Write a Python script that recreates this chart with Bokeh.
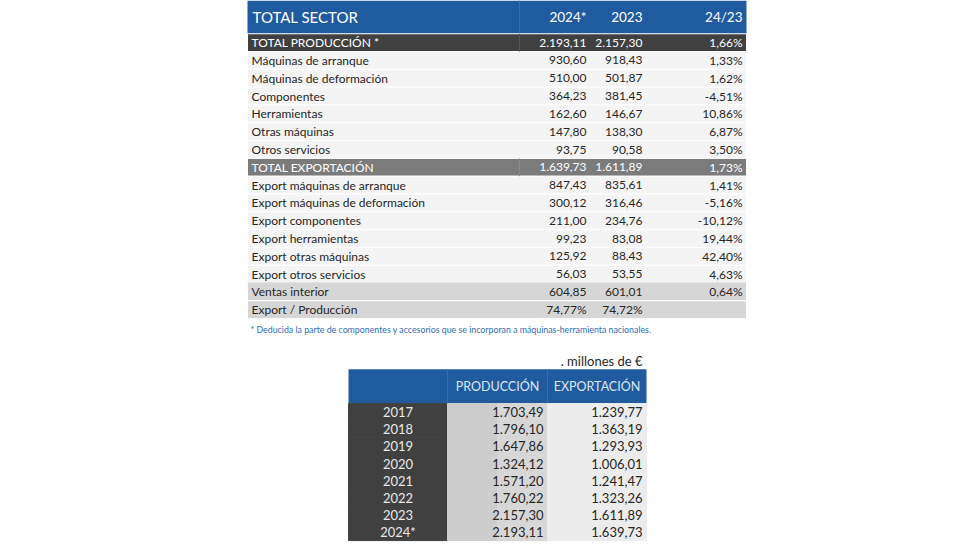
from bokeh.plotting import figure
from bokeh.models import Range1d, ColumnDataSource
from bokeh.core.properties import value
from bokeh.embed import file_html
from bokeh.resources import INLINE

# ---------------- data ----------------
header1 = ["TOTAL SECTOR", "2024*", "2023", "24/23"]
labels1 = ["TOTAL PRODUCCIÓN *", "Máquinas de arranque", "Máquinas de deformación",
           "Componentes", "Herramientas", "Otras máquinas", "Otros servicios",
           "TOTAL EXPORTACIÓN", "Export máquinas de arranque", "Export máquinas de deformación",
           "Export componentes", "Export herramientas", "Export otras máquinas",
           "Export otros servicios", "Ventas interior", "Export / Producción"]
val2024 = [2193.11, 930.60, 510.00, 364.23, 162.60, 147.80, 93.75,
           1639.73, 847.43, 300.12, 211.00, 99.23, 125.92, 56.03, 604.85, 74.77]
val2023 = [2157.30, 918.43, 501.87, 381.45, 146.67, 138.30, 90.58,
           1611.89, 835.61, 316.46, 234.76, 83.08, 88.43, 53.55, 601.01, 74.72]
change = [1.66, 1.33, 1.62, -4.51, 10.86, 6.87, 3.50,
          1.73, 1.41, -5.16, -10.12, 19.44, 42.40, 4.63, 0.64, None]
row_kind = ["dark", "n", "n", "n", "n", "n", "n", "mid", "n", "n", "n", "n", "n", "n", "light", "light"]
is_pct_row = [False] * 15 + [True]

footnote = "* Deducida la parte de componentes y accesorios que se incorporan a máquinas-herramienta nacionales."
units = ". millones de €"

header2 = ["PRODUCCIÓN", "EXPORTACIÓN"]
years = ["2017", "2018", "2019", "2020", "2021", "2022", "2023", "2024*"]
produccion = [1703.49, 1796.10, 1647.86, 1324.12, 1571.20, 1760.22, 2157.30, 2193.11]
exportacion = [1239.77, 1363.19, 1293.93, 1006.01, 1241.47, 1323.26, 1611.89, 1639.73]


def es(v):
    s = f"{v:,.2f}"
    return s.replace(",", "X").replace(".", ",").replace("X", ".")


def pct(v):
    return "" if v is None else es(v) + "%"


# ---------------- styling ----------------
FONT = "Lato"
BLUE = "#1F5B9E"
DARK = "#404040"
MID = "#7B7B7B"
LIGHTROW = "#F4F4F4"
GREYROW = "#D6D6D6"
TXT = "#262626"

W, H = 964, 544
p = figure(width=W, height=H, output_backend="svg", toolbar_location=None,
           x_range=Range1d(0, W), y_range=Range1d(556, 0),
           min_border=0)
p.axis.visible = False
p.grid.visible = False
p.outline_line_color = None
p.background_fill_color = "white"

# ---------------- table 1 ----------------
X0, X1 = 247, 746
HT, HB = 0, 34
RH = 18.2
colR = [586, 642, 742]
LBLX = 251

p.quad(left=[X0], right=[X1], top=[HT], bottom=[HB], fill_color=BLUE, line_color=None)
p.segment(x0=[519], y0=[HT], x1=[519], y1=[HB], line_color="#3a6ea8", line_width=1)
p.text(x=[252], y=[17], text=[header1[0]], text_font=value(FONT), text_font_size="15px",
       text_color="white", text_baseline="middle", text_align="left")
p.text(x=colR, y=[17] * 3, text=header1[1:], text_font=value(FONT), text_font_size="13.5px",
       text_color="white", text_baseline="middle", text_align="right")

fills = {"dark": DARK, "mid": MID, "n": LIGHTROW, "light": GREYROW}
tcol = {"dark": "white", "mid": "white", "n": TXT, "light": TXT}
tops = [HB + i * RH for i in range(len(labels1))]
bots = [t + RH for t in tops]
mids = [t + RH / 2 for t in tops]
src1 = ColumnDataSource(dict(
    top=tops, bottom=bots, y=mids,
    fill=[fills[k] for k in row_kind], tc=[tcol[k] for k in row_kind],
    label=labels1,
    a=[pct(v) if pr else es(v) for v, pr in zip(val2024, is_pct_row)],
    b=[pct(v) if pr else es(v) for v, pr in zip(val2023, is_pct_row)],
    c=[pct(v) for v in change],
))
p.quad(left=X0, right=X1, top="top", bottom="bottom", fill_color="fill",
       line_color="white", line_width=1, source=src1)
p.segment(x0=[519], y0=[tops[0]], x1=[519], y1=[bots[0]], line_color="#555555", line_width=1)
p.segment(x0=[519], y0=[tops[7]], x1=[519], y1=[bots[7]], line_color="#8a8a8a", line_width=1)
p.segment(x0=[X0], y0=[bots[13]], x1=[X1], y1=[bots[13]], line_color="#c8c8c8", line_width=1)
for col, al, xx in [("label", "left", LBLX), ("a", "right", colR[0]),
                    ("b", "right", colR[1]), ("c", "right", colR[2])]:
    p.text(x=xx, y="y", text=col, text_color="tc", text_font=value(FONT),
           text_font_size="12px", text_baseline="middle", text_align=al, source=src1)

p.text(x=[250], y=[336], text=[footnote], text_font=value(FONT), text_font_size="8.8px",
       text_color="#2E6DB4", text_baseline="middle", text_align="left")

# ---------------- table 2 ----------------
T0, T1 = 348, 646
C1, C2 = 447, 547
H2T, H2B = 377, 412
RH2 = 17.5

p.text(x=[642], y=[368], text=[units], text_font=value(FONT), text_font_size="13px",
       text_color=TXT, text_baseline="middle", text_align="right")
p.quad(left=[T0], right=[T1], top=[H2T], bottom=[H2B], fill_color=BLUE, line_color=None)
p.segment(x0=[C1, C2], y0=[H2T] * 2, x1=[C1, C2], y1=[H2B] * 2, line_color="#3a6ea8", line_width=1)
p.text(x=[(C1 + C2) / 2, (C2 + T1) / 2], y=[395, 395], text=header2, text_font=value(FONT),
       text_font_size="12.5px", text_color="#DCE6F2", text_baseline="middle", text_align="center")

t2 = [H2B + i * RH2 for i in range(len(years))]
src2 = ColumnDataSource(dict(
    top=t2, bottom=[t + RH2 for t in t2], y=[t + RH2 / 2 for t in t2],
    year=years, pr=[es(v) for v in produccion], ex=[es(v) for v in exportacion],
))
p.quad(left=T0, right=C1, top="top", bottom="bottom", fill_color=DARK, line_color=DARK, source=src2)
p.quad(left=C1, right=C2, top="top", bottom="bottom", fill_color="#CDCDCD", line_color="#CDCDCD", source=src2)
p.quad(left=C1 + 50, right=C2, top="top", bottom="bottom", fill_color="#D7D7D7", line_color="#D7D7D7", source=src2)
p.quad(left=C2, right=T1, top="top", bottom="bottom", fill_color="#ECECEC", line_color="#ECECEC", source=src2)
p.text(x=(T0 + C1) / 2, y="y", text="year", text_font=value(FONT), text_font_size="13px",
       text_color="#E8E8E8", text_baseline="middle", text_align="center", source=src2)
p.text(x=543, y="y", text="pr", text_font=value(FONT), text_font_size="13px",
       text_color=TXT, text_baseline="middle", text_align="right", source=src2)
p.text(x=642, y="y", text="ex", text_font=value(FONT), text_font_size="13px",
       text_color=TXT, text_baseline="middle", text_align="right", source=src2)

open("out.html", "w").write(file_html(p, INLINE))
